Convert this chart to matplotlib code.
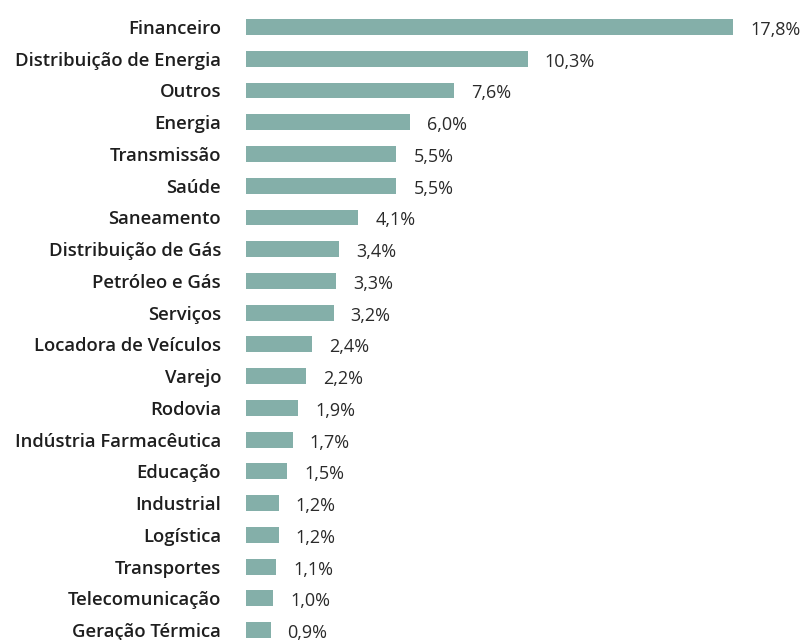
import matplotlib
matplotlib.use("Agg")
import matplotlib.pyplot as plt

categories = ["Financeiro", "Distribuição de Energia", "Outros", "Energia", "Transmissão",
              "Saúde", "Saneamento", "Distribuição de Gás", "Petróleo e Gás", "Serviços",
              "Locadora de Veículos", "Varejo", "Rodovia", "Indústria Farmacêutica",
              "Educação", "Industrial", "Logística", "Transportes", "Telecomunicação",
              "Geração Térmica"]
values = [17.8, 10.3, 7.6, 6.0, 5.5, 5.5, 4.1, 3.4, 3.3, 3.2, 2.4, 2.2, 1.9, 1.7, 1.5,
          1.2, 1.2, 1.1, 1.0, 0.9]
value_labels = ["17,8%", "10,3%", "7,6%", "6,0%", "5,5%", "5,5%", "4,1%", "3,4%", "3,3%",
                "3,2%", "2,4%", "2,2%", "1,9%", "1,7%", "1,5%", "1,2%", "1,2%", "1,1%",
                "1,0%", "0,9%"]

W, H = 805, 640
fig = plt.figure(figsize=(W / 100, H / 100), dpi=100)
x0, x1 = 246, 733
ax = fig.add_axes([x0 / W, 0, (x1 - x0) / W, 1])
ypos = list(range(len(categories)))
ax.barh(ypos, values, height=0.5, color="#84afa9")
ax.set_xlim(0, max(values))
row = 31.74
top_c = 27
ax.set_ylim((H - top_c) / row, -top_c / row)
ax.set_yticks(ypos)
ax.set_yticklabels(categories, fontsize=13.3, fontweight="semibold",
                   family="Open Sans", color="#1e1e1e")
ax.tick_params(axis="y", length=0, pad=18)
ax.set_xticks([])
for s in ax.spines.values():
    s.set_visible(False)
for y, v, lab in zip(ypos, values, value_labels):
    ax.annotate(lab, (v, y), xytext=(17, -3), textcoords="offset pixels",
                va="center", ha="left", fontsize=13, family="Open Sans",
                color="#2a2a2a", annotation_clip=False)
fig.savefig("out.png", dpi=100)
